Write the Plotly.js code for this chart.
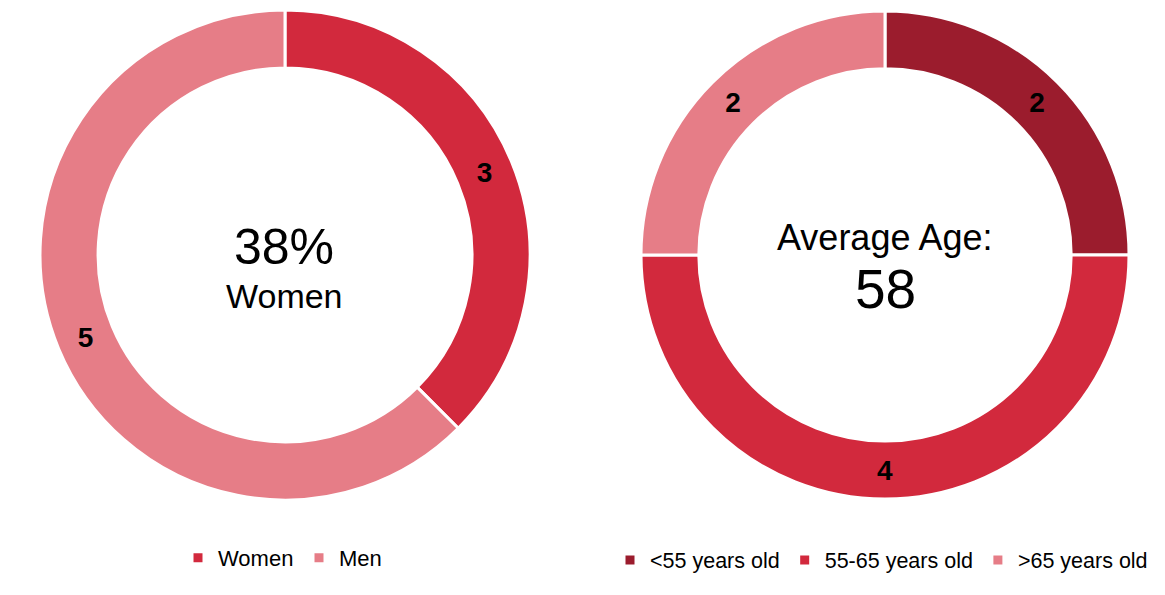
<!DOCTYPE html>
<html>
<head>
<meta charset="utf-8">
<script src="https://cdn.plot.ly/plotly-3.0.1.min.js"></script>
<style>html,body{margin:0;padding:0;background:#fff;}#chart{width:1165px;height:595px;}</style>
</head>
<body>
<div id="chart"></div>
<script>
// Data
const genderLabels = ["Women", "Men"];
const genderValues = [3, 5];
const ageLabels = ["<55 years old", "55-65 years old", ">65 years old"];
const ageValues = [2, 4, 2];
const genderCenterTop = "38%";
const genderCenterBottom = "Women";
const ageCenterTop = "Average Age:";
const ageCenterBottom = "58";

// Styles
const genderColors = ["#D2293D", "#E67D87"];
const ageColors = ["#9B1C2D", "#D2293D", "#E67D87"];
const FONT = "Arial, 'Liberation Sans', sans-serif";
const W = 1165, H = 595, MT = 10, MB = 95;
const plotH = H - MT - MB;
const py = p => (H - MB - p) / plotH;
const px = p => p / W;

const common = {
  type: "pie",
  hole: 0.763,
  sort: false,
  direction: "clockwise",
  rotation: 0,
  textinfo: "value",
  textposition: "inside",
  insidetextorientation: "horizontal",
  textfont: {family: FONT, size: 28, color: "#000", weight: "bold"},
  insidetextfont: {family: FONT, size: 28, color: "#000", weight: "bold"},
  hoverinfo: "label+value",
};

const traces = [
  Object.assign({}, common, {
    labels: genderLabels,
    values: genderValues,
    marker: {colors: genderColors, line: {color: "#fff", width: 3}},
    domain: {x: [px(40), px(530)], y: [0, 1]},
    legend: "legend"
  }),
  Object.assign({}, common, {
    labels: ageLabels,
    values: ageValues,
    marker: {colors: ageColors, line: {color: "#fff", width: 3}},
    domain: {x: [px(641), px(1129)], y: [0, 1]},
    legend: "legend2"
  })
];

const ann = (text, x, y, size) => ({
  text: text, x: x, y: y, xref: "paper", yref: "paper",
  xanchor: "center", yanchor: "middle", showarrow: false,
  font: {family: FONT, size: size, color: "#000"}
});

const layout = {
  width: W, height: H,
  margin: {l: 0, r: 0, t: MT, b: MB},
  paper_bgcolor: "#fff",
  plot_bgcolor: "#fff",
  font: {family: FONT, color: "#000"},
  showlegend: true,
  legend: {
    orientation: "h", x: px(178), xanchor: "left",
    yref: "container", y: 1 - 558 / H, yanchor: "middle",
    font: {family: FONT, size: 22, color: "#000"},
    entrywidth: 76, entrywidthmode: "pixels",
    bgcolor: "rgba(0,0,0,0)", borderwidth: 0
  },
  legend2: {
    orientation: "h", x: px(610), xanchor: "left",
    yref: "container", y: 1 - 560 / H, yanchor: "middle",
    font: {family: FONT, size: 21.5, color: "#000"},
    bgcolor: "rgba(0,0,0,0)", borderwidth: 0
  },
  annotations: [
    ann(genderCenterTop, px(284), py(247), 50),
    ann(genderCenterBottom, px(284), py(296), 34),
    ann(ageCenterTop, px(885), py(237), 36),
    ann(ageCenterBottom, px(885), py(289), 55)
  ]
};

Plotly.newPlot("chart", traces, layout, {displayModeBar: false, staticPlot: true});
</script>
</body>
</html>
